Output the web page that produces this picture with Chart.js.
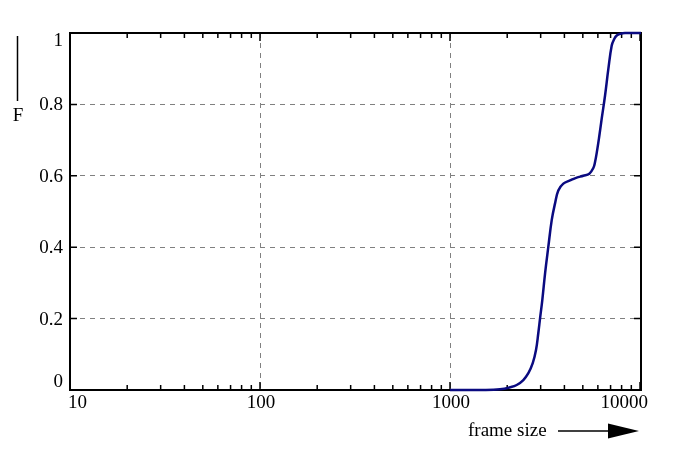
<!DOCTYPE html>
<html>
<head>
<meta charset="utf-8">
<script src="https://cdn.jsdelivr.net/npm/chart.js@4"></script>
<style>
  html, body { margin: 0; padding: 0; background: #ffffff; }
  #wrap { width: 693px; height: 450px; position: relative; }
</style>
</head>
<body>
<div id="wrap"><canvas id="c" width="693" height="450"></canvas></div>
<script>
// ---- data ----
const frameSizes = [1000, 1500, 1833, 2069, 2244, 2431, 2584, 2725, 2835, 2915, 2977, 3060, 3170, 3290, 3430, 3569, 3715, 3949, 4281, 4643, 5031, 5411, 5679, 5795, 5950, 6100, 6286, 6546, 6816, 7097, 7300, 7540, 7900, 8335, 10120];
const cdfValues  = [0, 0, 0.002, 0.0075, 0.014, 0.028, 0.047, 0.075, 0.112, 0.159, 0.2, 0.252, 0.33, 0.40, 0.476, 0.522, 0.559, 0.578, 0.587, 0.595, 0.600, 0.606, 0.622, 0.638, 0.672, 0.71, 0.76, 0.825, 0.90, 0.965, 0.982, 0.993, 0.998, 1.0, 1.0];
const xTickValues = [10, 100, 1000, 10000];
const xTickLabels = ["10", "100", "1000", "10000"];
const yTickValues = [0, 0.2, 0.4, 0.6, 0.8, 1];
const yTickLabels = ["0", "0.2", "0.4", "0.6", "0.8", "1"];
const xAxisTitle = "frame size";
const yAxisTitle = "F";

const FONT = '19px "Liberation Serif", "Times New Roman", serif';
const points = frameSizes.map((x, i) => ({ x: x, y: cdfValues[i] }));

const decorPlugin = {
  id: 'decor',
  beforeDatasetsDraw(chart) {
    const ctx = chart.ctx;
    const a = chart.chartArea;
    const xs = chart.scales.x, ys = chart.scales.y;
    ctx.save();
    // frame
    ctx.strokeStyle = '#000';
    ctx.lineWidth = 2;
    ctx.strokeRect(a.left, a.top, a.right - a.left, a.bottom - a.top);
    // x ticks (major + minor), bottom and top, inward
    ctx.lineWidth = 1.5;
    const decades = [10, 100, 1000];
    const xt = [];
    decades.forEach(d => { for (let m = 1; m <= 9; m++) xt.push({ v: m * d, major: m === 1 }); });
    xt.push({ v: 10000, major: true });
    xt.forEach(t => {
      const px = xs.getPixelForValue(t.v);
      const len = t.major ? 8 : 5;
      ctx.beginPath();
      ctx.moveTo(px, a.bottom); ctx.lineTo(px, a.bottom - len);
      ctx.moveTo(px, a.top); ctx.lineTo(px, a.top + len);
      ctx.stroke();
    });
    // y ticks left and right
    yTickValues.forEach(v => {
      const py = ys.getPixelForValue(v);
      ctx.beginPath();
      ctx.moveTo(a.left, py); ctx.lineTo(a.left + 7, py);
      ctx.moveTo(a.right, py); ctx.lineTo(a.right - 7, py);
      ctx.stroke();
    });
    // tick labels
    ctx.fillStyle = '#000';
    ctx.font = FONT;
    ctx.textBaseline = 'middle';
    xTickValues.forEach((v, i) => {
      const px = xs.getPixelForValue(v);
      if (i === 0) { ctx.textAlign = 'left'; ctx.fillText(xTickLabels[i], px - 2, a.bottom + 13); }
      else if (i === xTickValues.length - 1) { ctx.textAlign = 'right'; ctx.fillText(xTickLabels[i], px + 8, a.bottom + 13); }
      else { ctx.textAlign = 'center'; ctx.fillText(xTickLabels[i], px + 1, a.bottom + 13); }
    });
    ctx.textAlign = 'right';
    yTickValues.forEach((v, i) => {
      let py = ys.getPixelForValue(v);
      if (i === 0) py -= 8; else if (i === yTickValues.length - 1) py += 8; else py += 1;
      ctx.fillText(yTickLabels[i], a.left - 7, py);
    });
    // y axis title with bar
    ctx.textAlign = 'center';
    ctx.fillText(yAxisTitle, 18, 116);
    ctx.lineWidth = 1.5;
    ctx.beginPath(); ctx.moveTo(17.5, 36); ctx.lineTo(17.5, 101); ctx.stroke();
    // x axis title with arrow
    ctx.textAlign = 'left';
    ctx.fillText(xAxisTitle, 468, 431);
    ctx.beginPath(); ctx.moveTo(558, 431); ctx.lineTo(612, 431); ctx.stroke();
    ctx.beginPath();
    ctx.moveTo(608, 423.5); ctx.lineTo(639, 431); ctx.lineTo(608, 438.5); ctx.closePath();
    ctx.fill();
    ctx.restore();
  }
};

new Chart(document.getElementById('c'), {
  type: 'line',
  data: {
    datasets: [{
      data: points,
      borderColor: '#0a0a80',
      borderWidth: 2.5,
      pointRadius: 0,
      fill: false,
      tension: 0.4,
      clip: 4
    }]
  },
  options: {
    responsive: false,
    animation: false,
    events: [],
    layout: { padding: { left: 0, right: 52, top: 33, bottom: 0 } },
    plugins: { legend: { display: false }, tooltip: { enabled: false } },
    scales: {
      x: {
        type: 'logarithmic',
        min: 10, max: 10120,
        afterBuildTicks: s => { s.ticks = xTickValues.map(v => ({ value: v })); },
        afterFit: s => { s.height = 60; },
        ticks: { display: false },
        border: { display: false, dash: [5, 5] },
        grid: { color: '#808080', lineWidth: 1, drawTicks: false }
      },
      y: {
        type: 'linear',
        min: 0, max: 1,
        afterBuildTicks: s => { s.ticks = yTickValues.map(v => ({ value: v })); },
        afterFit: s => { s.width = 70; },
        ticks: { display: false },
        border: { display: false, dash: [5, 5] },
        grid: { color: '#808080', lineWidth: 1, drawTicks: false }
      }
    }
  },
  plugins: [decorPlugin]
});
</script>
</body>
</html>
